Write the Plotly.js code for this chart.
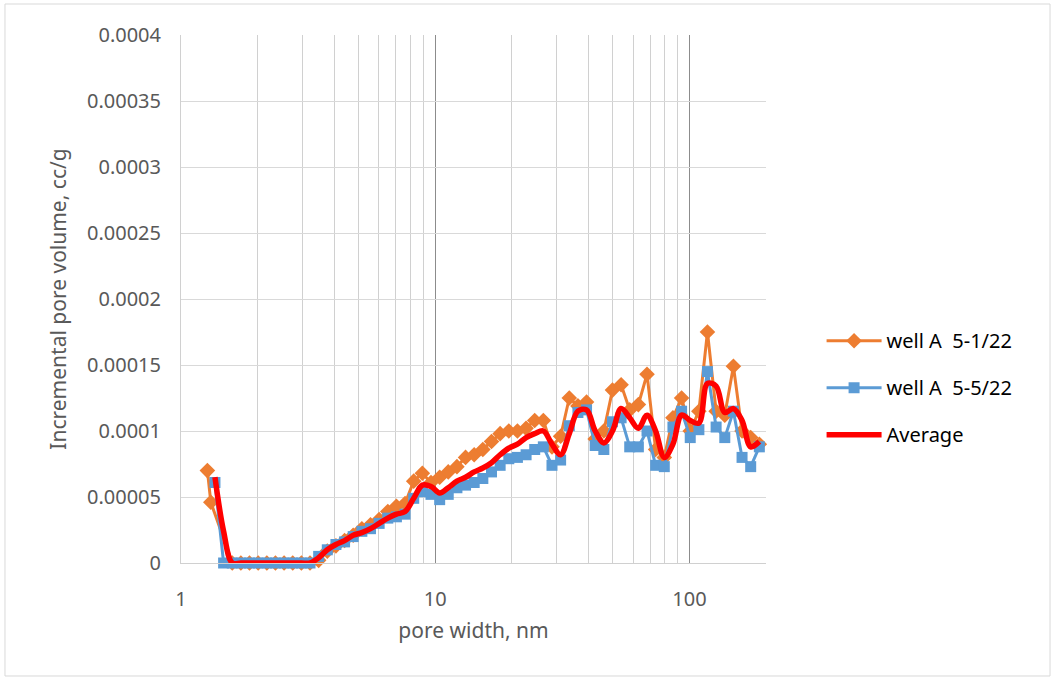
<!DOCTYPE html>
<html>
<head>
<meta charset="utf-8">
<script src="https://cdn.plot.ly/plotly-3.0.1.min.js"></script>
<style>
  html, body { margin: 0; padding: 0; background: #ffffff; }
  #chart { width: 1055px; height: 681px; }
</style>
</head>
<body>
<div id="chart"></div>
<script>
// Pore widths (nm) of the DFT size bins
const poreWidth = [
  1.36, 1.471, 1.591, 1.72, 1.86, 2.012, 2.176, 2.352, 2.544, 2.751,
  2.975, 3.217, 3.479, 3.762, 4.068, 4.399, 4.757, 5.145, 5.564, 6.017,
  6.507, 7.036, 7.609, 8.229, 8.899, 9.623, 10.41, 11.25, 12.17, 13.16,
  14.23, 15.39, 16.65, 18.0, 19.47, 21.05, 22.77, 24.62, 26.62, 28.79,
  31.13, 33.67, 36.41, 39.37, 42.58, 46.04, 49.79, 53.84, 58.21, 62.95,
  68.08, 73.62, 79.61, 86.1, 93.11, 100.7, 108.9, 117.7, 127.3, 137.7,
  148.9, 161.0, 174.1, 188.3
];

// Sample 5-1/22 starts on two finer bins
const poreWidthA1 = [1.27, 1.31].concat(poreWidth.slice(2));

// Incremental pore volume, cc/g
const wellA1 = [
  7.0e-5, 4.6e-5, 0, 0, 0, 0, 0, 0, 0, 0,
  0, 0, 2e-6, 9e-6, 1.3e-5, 1.7e-5, 2.1e-5, 2.6e-5, 2.9e-5, 3.3e-5,
  3.9e-5, 4.3e-5, 4.5e-5, 6.2e-5, 6.8e-5, 6.1e-5, 6.5e-5, 6.9e-5, 7.3e-5, 8.0e-5,
  8.2e-5, 8.6e-5, 9.2e-5, 9.8e-5, 1.0e-4, 1.0e-4, 1.02e-4, 1.08e-4, 1.08e-4, 8.8e-5,
  9.6e-5, 1.25e-4, 1.19e-4, 1.22e-4, 9.4e-5, 1.0e-4, 1.31e-4, 1.35e-4, 1.16e-4, 1.2e-4,
  1.43e-4, 8.6e-5, 8.0e-5, 1.1e-4, 1.25e-4, 1.0e-4, 1.15e-4, 1.75e-4, 1.15e-4, 1.12e-4,
  1.49e-4, 1.0e-4, 9.5e-5, 9.0e-5
];

const wellA5 = [
  6.1e-5, 0, 0, 0, 0, 0, 0, 0, 0, 0,
  0, 0, 5e-6, 1.0e-5, 1.4e-5, 1.6e-5, 2.0e-5, 2.4e-5, 2.6e-5, 3.0e-5,
  3.4e-5, 3.5e-5, 3.7e-5, 4.9e-5, 5.4e-5, 5.2e-5, 4.8e-5, 5.2e-5, 5.7e-5, 5.9e-5,
  6.1e-5, 6.4e-5, 6.9e-5, 7.4e-5, 7.9e-5, 8.0e-5, 8.2e-5, 8.6e-5, 8.8e-5, 7.4e-5,
  7.8e-5, 1.04e-4, 1.14e-4, 1.16e-4, 8.9e-5, 8.6e-5, 1.07e-4, 1.1e-4, 8.8e-5, 8.8e-5,
  1.0e-4, 7.4e-5, 7.3e-5, 1.03e-4, 1.15e-4, 9.5e-5, 1.01e-4, 1.45e-4, 1.03e-4, 9.5e-5,
  1.15e-4, 8.0e-5, 7.3e-5, 8.8e-5
];

const average = [
  6.5e-5, 2.4e-5, 0, 0, 0, 0, 0, 0, 0, 0,
  0, 0, 4e-6, 1.0e-5, 1.4e-5, 1.7e-5, 2.1e-5, 2.3e-5, 2.6e-5, 3.0e-5,
  3.4e-5, 3.7e-5, 3.9e-5, 4.9e-5, 5.9e-5, 5.8e-5, 5.3e-5, 5.7e-5, 6.2e-5, 6.5e-5,
  6.9e-5, 7.2e-5, 7.6e-5, 8.2e-5, 8.7e-5, 9.0e-5, 9.5e-5, 9.8e-5, 1.0e-4, 9.0e-5,
  8.2e-5, 9.8e-5, 1.15e-4, 1.16e-4, 1.0e-4, 9.1e-5, 1.0e-4, 1.17e-4, 1.1e-4, 1.02e-4,
  1.12e-4, 1.0e-4, 8.0e-5, 9.0e-5, 1.12e-4, 1.08e-4, 1.06e-4, 1.36e-4, 1.34e-4, 1.14e-4,
  1.17e-4, 1.08e-4, 8.8e-5, 9.2e-5
];

const seriesNames = ['well A  5-1/22', 'well A  5-5/22', 'Average'];

const xTickVals = [1, 10, 100];
const xTickLabels = ['1', '10', '100'];
const xMinorVals = [2, 3, 4, 5, 6, 7, 8, 9, 20, 30, 40, 50, 60, 70, 80, 90, 200];
const yTickLabels = ['0', '0.00005', '0.0001', '0.00015', '0.0002', '0.00025', '0.0003', '0.00035', '0.0004'];

const FONT = 'Noto Sans, Lato, sans-serif';

const traces = [
  {
    x: poreWidthA1, y: wellA1, name: seriesNames[0], type: 'scatter', mode: 'lines+markers',
    legendgroup: 'a1', cliponaxis: false,
    line: { color: '#ED7D31', width: 3 },
    marker: { symbol: 'diamond', size: 12, color: '#ED7D31' }
  },
  {
    x: poreWidth, y: wellA5, name: seriesNames[1], type: 'scatter', mode: 'lines+markers',
    legendgroup: 'a5', cliponaxis: false,
    line: { color: '#5B9BD5', width: 3 },
    marker: { symbol: 'square', size: 11, color: '#5B9BD5' }
  },
  {
    x: poreWidth, y: average, name: seriesNames[2], type: 'scatter', mode: 'lines',
    legendgroup: 'avg', cliponaxis: false,
    line: { color: '#FF0000', width: 5.5, shape: 'spline', smoothing: 1 }
  }
];

const layout = {
  width: 1055, height: 681,
  margin: { l: 181, r: 289, t: 35, b: 118 },
  paper_bgcolor: '#ffffff', plot_bgcolor: '#ffffff',
  font: { family: FONT, color: '#595959', size: 19 },
  showlegend: true,
  legend: {
    x: 1.095, xanchor: 'left', y: 0.458, yanchor: 'top',
    traceorder: 'grouped', tracegroupgap: 18, itemwidth: 55,
    font: { family: FONT, size: 20, color: '#000000' },
    bgcolor: 'rgba(0,0,0,0)'
  },
  xaxis: {
    type: 'log', range: [0, Math.log10(200)],
    tickmode: 'array', tickvals: xTickVals, ticktext: xTickLabels,
    ticks: '', ticklabelstandoff: 18,
    tickfont: { family: FONT, size: 20, color: '#595959' },
    showgrid: true, gridcolor: '#8C8C8C', gridwidth: 1,
    minor: { tickmode: 'array', tickvals: xMinorVals, showgrid: true, gridcolor: '#D0D0D0', gridwidth: 1, ticks: '' },
    showline: true, linecolor: '#D0D0D0', linewidth: 1,
    zeroline: false,
    title: { text: 'pore width, nm', standoff: 12, font: { family: FONT, size: 21, color: '#595959' } }
  },
  yaxis: {
    range: [0, 0.0004],
    tickmode: 'array', tickvals: yTickLabels.map(Number), ticktext: yTickLabels,
    ticks: '', ticklabelstandoff: 15,
    tickfont: { family: FONT, size: 20, color: '#595959' },
    showgrid: true, gridcolor: '#D9D9D9', gridwidth: 1,
    showline: true, linecolor: '#D0D0D0', linewidth: 1,
    zeroline: false,
    title: { text: 'Incremental pore volume, cc/g', standoff: 14, font: { family: FONT, size: 21, color: '#595959' } }
  },
  shapes: [
    { type: 'rect', xref: 'paper', yref: 'paper', x0: -0.3009, x1: 1.4855, y0: -0.214, y1: 1.0587,
      line: { color: '#D9D9D9', width: 1 }, fillcolor: 'rgba(0,0,0,0)', layer: 'below' }
  ]
};

Plotly.newPlot('chart', traces, layout, { displayModeBar: false, staticPlot: true });
</script>
</body>
</html>
